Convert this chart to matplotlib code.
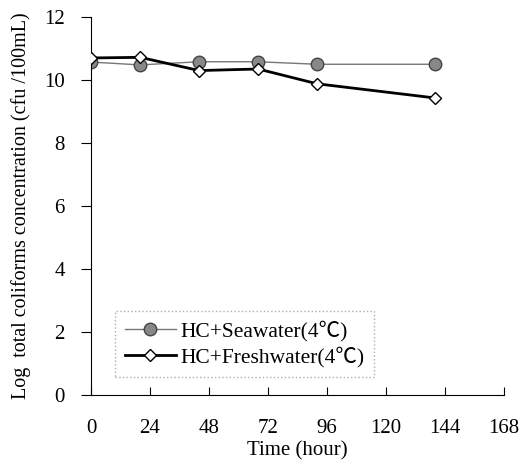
import matplotlib
matplotlib.use("Agg")
import matplotlib.pyplot as plt

plt.rcParams['font.family'] = ['Liberation Serif', 'Noto Sans CJK SC', 'DejaVu Sans']

hours = [0, 20, 44, 68, 92, 140]
seawater = [10.57, 10.48, 10.58, 10.58, 10.50, 10.50]
freshwater = [10.70, 10.72, 10.30, 10.35, 9.88, 9.43]
xticks = [0, 24, 48, 72, 96, 120, 144, 168]
yticks = [0, 2, 4, 6, 8, 10, 12]

fig = plt.figure(figsize=(5.24, 4.73), dpi=100)
ax = fig.add_axes([0.1737, 0.165, 0.788, 0.799])

ax.plot(hours, seawater, color='#777777', lw=1.0, marker='o', ms=9,
        mfc='#888888', mec='#444444', mew=1.0, label='HC+Seawater(4\u2103)', zorder=2)
ax.plot(hours, freshwater, color='black', lw=2.0, marker='D', ms=6.5,
        mfc='white', mec='black', mew=1.0, label='HC+Freshwater(4\u2103)', zorder=3)

ax.set_xlim(0, 168)
ax.set_ylim(0, 12)
ax.set_xticks(xticks)
ax.set_yticks(yticks)
ax.spines['top'].set_visible(False)
ax.spines['right'].set_visible(False)
ax.tick_params(axis='x', direction='in', length=6, pad=17, labelsize=15)
ax.tick_params(axis='y', direction='out', length=7, pad=12, labelsize=15)
ax.set_xlabel('Time (hour)', fontsize=15, labelpad=3)
ax.set_ylabel('Log  total coliforms concentration (cfu /100mL)', fontsize=14.5, labelpad=9)

leg = ax.legend(loc='lower left', bbox_to_anchor=(0.058, 0.048), fontsize=15.5,
                frameon=True, fancybox=False, handlelength=2.4, handletextpad=0.2,
                borderpad=0.45, labelspacing=0.2, borderaxespad=0)
leg.get_frame().set_edgecolor('#999999')
leg.get_frame().set_linestyle(':')
leg.get_frame().set_linewidth(1.0)

fig.savefig('out.png', dpi=100)
